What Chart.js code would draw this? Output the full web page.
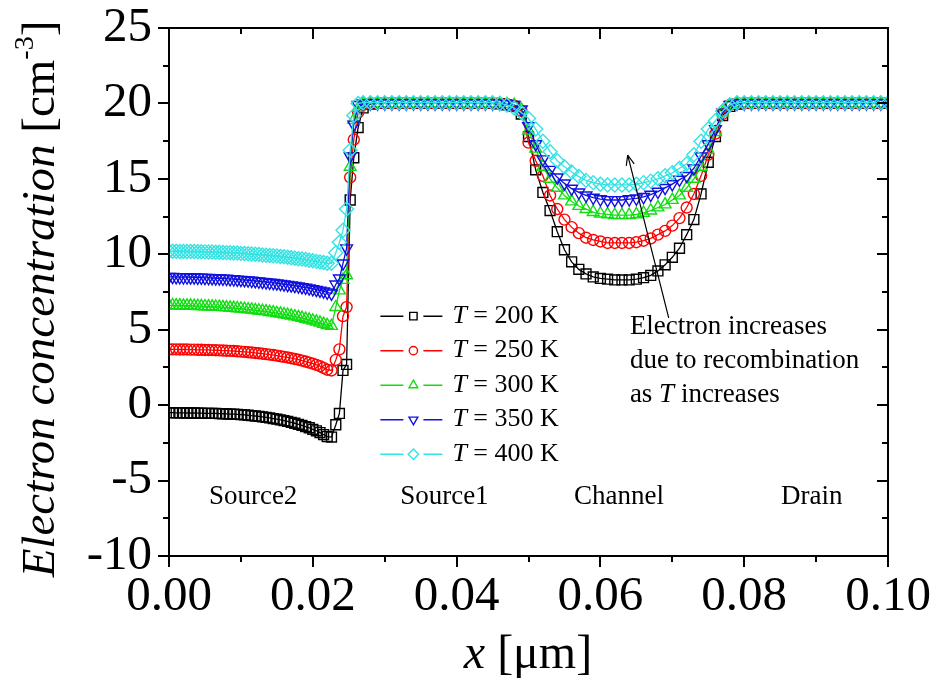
<!DOCTYPE html>
<html><head><meta charset="utf-8">
<script src="https://cdn.jsdelivr.net/npm/chart.js@4.4.0/dist/chart.umd.min.js"></script>
<style>html,body{margin:0;padding:0;background:#fff;}canvas{display:block;}</style>
</head><body>
<canvas id="c" width="930" height="682"></canvas>
<script>
// ---- data ----
const xs = [
  0,0.0005,0.001,0.0015,0.002,0.0025,0.003,0.0035,0.004,0.0045,0.005,0.0055,0.006,0.0065,0.007,0.0075,0.008,0.0085,0.009,0.0095,
  0.01,0.0105,0.011,0.0115,0.012,0.0125,0.013,0.0135,0.014,0.0145,0.015,0.0155,0.016,0.0165,0.017,0.0175,0.018,0.0185,0.019,0.0195,
  0.02,0.0205,0.021,0.0215,0.022,
  0.0226,0.0232,0.0237,0.0242,0.0247,0.0252,0.0257,0.0263,0.027,
  0.028,0.029,0.03,0.031,0.032,0.033,0.034,0.035,0.036,0.037,0.038,0.039,0.04,0.041,0.042,0.043,0.044,0.045,0.046,0.047,0.048,
  0.049,0.05,0.051,0.052,0.053,0.054,0.055,0.056,0.057,0.058,0.059,0.06,0.061,0.062,0.063,0.064,0.065,0.066,0.067,0.068,0.069,0.07,0.071,0.072,0.073,0.074,0.075,0.076,0.077,
  0.078,0.079,0.08,0.081,0.082,0.083,0.084,0.085,0.086,0.087,0.088,0.089,0.09,0.091,0.092,0.093,0.094,0.095,0.096,0.097,0.098,0.099,0.1
];
const t200 = [
  -0.50,-0.50,-0.51,-0.51,-0.51,-0.52,-0.52,-0.52,-0.53,-0.53,-0.54,-0.54,-0.55,-0.55,-0.56,-0.57,-0.58,-0.59,-0.60,-0.61,
  -0.63,-0.65,-0.67,-0.70,-0.72,-0.75,-0.78,-0.81,-0.85,-0.89,-0.93,-0.98,-1.03,-1.08,-1.14,-1.20,-1.27,-1.34,-1.42,-1.50,
  -1.60,-1.70,-1.82,-1.95,-2.08,
  -2.12,-1.30,-0.55,2.30,2.70,13.60,16.40,18.40,19.70,
  19.95,20.00,20.00,20.00,20.00,20.00,20.00,20.00,20.00,20.00,20.00,20.00,20.00,20.00,20.00,20.00,20.00,20.00,19.98,19.90,19.80,
  19.30,17.80,15.60,14.10,12.90,11.50,10.30,9.50,9.00,8.70,8.50,8.40,8.35,8.30,8.30,8.30,8.35,8.45,8.60,8.90,9.30,9.80,10.40,11.30,12.30,14.00,16.10,17.80,19.20,
  19.80,19.95,20.00,20.00,20.00,20.00,20.00,20.00,20.00,20.00,20.00,20.00,20.00,20.00,20.00,20.00,20.00,20.00,20.00,20.00,20.00,20.00,20.00
];
const t250 = [
  3.70,3.70,3.70,3.69,3.69,3.69,3.68,3.68,3.67,3.67,3.66,3.66,3.65,3.64,3.63,3.62,3.61,3.60,3.59,3.57,
  3.55,3.53,3.51,3.49,3.46,3.44,3.41,3.38,3.35,3.32,3.28,3.24,3.20,3.16,3.11,3.06,3.01,2.95,2.89,2.82,
  2.75,2.67,2.58,2.47,2.35,
  2.30,3.00,3.70,5.90,6.50,15.10,17.60,19.40,19.90,
  20.00,20.00,20.00,20.00,20.00,20.00,20.00,20.00,20.00,20.00,20.00,20.00,20.00,20.00,20.00,20.00,20.00,20.00,20.00,19.95,19.85,
  19.50,17.40,16.20,15.20,13.90,13.00,12.30,11.80,11.40,11.10,10.95,10.85,10.75,10.75,10.75,10.75,10.80,10.90,11.05,11.30,11.55,11.90,12.40,13.10,14.00,15.20,16.60,18.00,19.30,
  19.90,20.00,20.00,20.00,20.00,20.00,20.00,20.00,20.00,20.00,20.00,20.00,20.00,20.00,20.00,20.00,20.00,20.00,20.00,20.00,20.00,20.00,20.00
];
const t300 = [
  6.62,6.62,6.61,6.61,6.60,6.60,6.59,6.58,6.57,6.56,6.55,6.54,6.53,6.52,6.51,6.49,6.48,6.46,6.44,6.42,
  6.40,6.38,6.35,6.33,6.30,6.27,6.24,6.21,6.17,6.14,6.10,6.06,6.02,5.98,5.93,5.88,5.83,5.78,5.72,5.66,
  5.60,5.53,5.46,5.38,5.30,
  5.25,6.50,7.60,8.30,8.60,15.80,18.90,19.70,20.00,
  20.00,20.00,20.00,20.00,20.00,20.00,20.00,20.00,20.00,20.00,20.00,20.00,20.00,20.00,20.00,20.00,20.00,20.00,20.00,19.95,19.90,
  19.60,18.20,17.00,15.80,15.00,14.40,13.90,13.50,13.20,13.00,12.80,12.70,12.65,12.60,12.60,12.60,12.65,12.75,12.90,13.10,13.30,13.60,13.90,14.40,15.00,15.80,16.90,18.10,19.40,
  19.90,20.00,20.00,20.00,20.00,20.00,20.00,20.00,20.00,20.00,20.00,20.00,20.00,20.00,20.00,20.00,20.00,20.00,20.00,20.00,20.00,20.00,20.00
];
const t350 = [
  8.50,8.50,8.49,8.49,8.48,8.48,8.47,8.47,8.46,8.45,8.44,8.43,8.42,8.41,8.40,8.39,8.38,8.36,8.35,8.33,
  8.31,8.29,8.27,8.25,8.23,8.20,8.18,8.15,8.12,8.10,8.07,8.04,8.01,7.98,7.94,7.91,7.87,7.83,7.79,7.75,
  7.70,7.65,7.60,7.54,7.47,
  7.40,8.00,8.40,9.40,10.40,16.50,18.60,19.90,20.00,
  20.00,20.00,20.00,20.00,20.00,20.00,20.00,20.00,20.00,20.00,20.00,20.00,20.00,20.00,20.00,20.00,20.00,20.00,20.00,19.95,19.90,
  19.60,18.50,17.30,16.30,15.60,15.10,14.70,14.35,14.10,13.90,13.75,13.65,13.60,13.60,13.60,13.65,13.70,13.80,13.95,14.15,14.40,14.65,14.95,15.20,15.70,16.50,17.30,18.30,19.40,
  19.90,20.00,20.00,20.00,20.00,20.00,20.00,20.00,20.00,20.00,20.00,20.00,20.00,20.00,20.00,20.00,20.00,20.00,20.00,20.00,20.00,20.00,20.00
];
const t400 = [
  10.20,10.20,10.20,10.19,10.19,10.19,10.18,10.18,10.17,10.17,10.16,10.15,10.15,10.14,10.13,10.12,10.11,10.10,10.09,10.08,
  10.06,10.05,10.03,10.02,10.00,9.98,9.96,9.94,9.92,9.90,9.88,9.85,9.83,9.80,9.77,9.74,9.71,9.68,9.65,9.61,
  9.57,9.53,9.49,9.45,9.40,
  9.40,10.10,10.80,11.60,13.00,16.90,19.20,20.00,20.05,
  20.05,20.05,20.05,20.05,20.05,20.05,20.05,20.05,20.05,20.05,20.05,20.05,20.05,20.05,20.05,20.05,20.05,20.05,20.00,19.90,19.70,
  19.40,19.00,18.30,17.50,16.80,16.20,15.80,15.45,15.15,14.90,14.75,14.65,14.60,14.60,14.60,14.60,14.65,14.75,14.85,15.00,15.20,15.40,15.70,16.00,16.60,17.50,18.30,18.85,19.50,
  19.90,20.05,20.05,20.05,20.05,20.05,20.05,20.05,20.05,20.05,20.05,20.05,20.05,20.05,20.05,20.05,20.05,20.05,20.05,20.05,20.05,20.05,20.05
];
const seriesNames = ['200 K','250 K','300 K','350 K','400 K'];
const seriesValues = [t200, t250, t300, t350, t400];
const xTickValues = [0, 0.02, 0.04, 0.06, 0.08, 0.10];
const yTickValues = [-10, -5, 0, 5, 10, 15, 20, 25];
const regionLabels = ['Source2', 'Source1', 'Channel', 'Drain'];
const noteLines = ['Electron increases', 'due to recombination', 'as T increases'];

// ---- styles ----
const SERIF = '"Liberation Serif","Times New Roman",serif';
const styles = [
  {color:'#000000', pointStyle:'rect', rotation:0, radius:7},
  {color:'#ff0000', pointStyle:'circle', rotation:0, radius:5.5},
  {color:'#11dd11', pointStyle:'triangle', rotation:0, radius:6.8},
  {color:'#1010e0', pointStyle:'triangle', rotation:180, radius:6.8},
  {color:'#33e3e3', pointStyle:'rectRot', rotation:0, radius:7}
];
const regionPos = [0.0117, 0.0383, 0.0626, 0.0894];
const regionY = -6.1;

const datasets = seriesValues.map((vals, i) => ({
  label: 'T = ' + seriesNames[i],
  data: xs.map((x, j) => ({x: x, y: vals[j]})),
  showLine: true,
  borderColor: styles[i].color,
  borderWidth: 1.3,
  backgroundColor: 'rgba(0,0,0,0)',
  pointBackgroundColor: 'rgba(0,0,0,0)',
  pointBorderColor: styles[i].color,
  pointBorderWidth: 1.4,
  pointStyle: styles[i].pointStyle,
  pointRotation: styles[i].rotation,
  pointRadius: styles[i].radius,
  tension: 0,
  order: 4 - i
}));

const decor = {
  id: 'decor',
  afterDraw(chart) {
    const ctx = chart.ctx;
    const xS = chart.scales.x, yS = chart.scales.y;
    const {left, right, top, bottom} = chart.chartArea;
    ctx.save();
    ctx.strokeStyle = '#000';
    ctx.lineWidth = 2;
    ctx.strokeRect(left, top, right - left, bottom - top);
    // ticks
    ctx.lineWidth = 2;
    ctx.beginPath();
    for (let k = 0; k <= 10; k++) {
      const v = k * 0.01;
      const px = Math.round(xS.getPixelForValue(v));
      const len = (k % 2 === 0) ? 11 : 6;
      ctx.moveTo(px, bottom); ctx.lineTo(px, bottom + len);
      ctx.moveTo(px, top); ctx.lineTo(px, top + len);
    }
    for (let k = 0; k <= 14; k++) {
      const v = -10 + k * 2.5;
      const py = Math.round(yS.getPixelForValue(v));
      const len = (k % 2 === 0) ? 11 : 6;
      ctx.moveTo(left, py); ctx.lineTo(left - len, py);
      ctx.moveTo(right, py); ctx.lineTo(right - len, py);
    }
    ctx.stroke();

    ctx.fillStyle = '#000';
    // region labels
    ctx.font = '27px ' + SERIF;
    ctx.textAlign = 'center';
    ctx.textBaseline = 'middle';
    regionLabels.forEach((t, i) => {
      ctx.fillText(t, xS.getPixelForValue(regionPos[i]), yS.getPixelForValue(regionY));
    });

    // note text
    ctx.textAlign = 'left';
    ctx.textBaseline = 'alphabetic';
    const nx = xS.getPixelForValue(0.0641);
    const nyBase = yS.getPixelForValue(5.31) + 9;
    const lineGap = 34;
    ctx.font = '27px ' + SERIF;
    ctx.fillText(noteLines[0], nx, nyBase);
    ctx.fillText(noteLines[1], nx, nyBase + lineGap);
    const parts = noteLines[2].split('T');
    let cx = nx;
    ctx.font = '27px ' + SERIF;
    ctx.fillText(parts[0], cx, nyBase + 2 * lineGap); cx += ctx.measureText(parts[0]).width;
    ctx.font = 'italic 27px ' + SERIF;
    ctx.fillText('T', cx, nyBase + 2 * lineGap); cx += ctx.measureText('T').width;
    ctx.font = '27px ' + SERIF;
    ctx.fillText(parts[1], cx, nyBase + 2 * lineGap);

    // arrow
    const ax0 = xS.getPixelForValue(0.0695), ay0 = yS.getPixelForValue(5.78);
    const ax1 = xS.getPixelForValue(0.0638), ay1 = yS.getPixelForValue(16.58);
    ctx.lineWidth = 1.2;
    ctx.beginPath();
    ctx.moveTo(ax0, ay0); ctx.lineTo(ax1, ay1);
    const ang = Math.atan2(ay1 - ay0, ax1 - ax0);
    const hl = 11, ha = 0.38;
    ctx.moveTo(ax1, ay1); ctx.lineTo(ax1 - hl * Math.cos(ang - ha), ay1 - hl * Math.sin(ang - ha));
    ctx.moveTo(ax1, ay1); ctx.lineTo(ax1 - hl * Math.cos(ang + ha), ay1 - hl * Math.sin(ang + ha));
    ctx.stroke();

    // legend
    const lx = xS.getPixelForValue(0.0294);
    const ly0 = yS.getPixelForValue(5.9);
    const rowGap = 34.5;
    seriesNames.forEach((name, i) => {
      const y = ly0 + i * rowGap;
      const st = styles[i];
      ctx.strokeStyle = st.color;
      ctx.lineWidth = 1.5;
      ctx.beginPath();
      ctx.moveTo(lx, y); ctx.lineTo(lx + 23, y);
      ctx.moveTo(lx + 43, y); ctx.lineTo(lx + 62, y);
      ctx.stroke();
      ctx.lineWidth = 1.4;
      ctx.fillStyle = 'rgba(0,0,0,0)';
      Chart.helpers.drawPoint(ctx, {pointStyle: st.pointStyle, rotation: st.rotation, radius: st.radius * 0.75, borderWidth: 1.4}, lx + 33, y);
      ctx.fillStyle = '#000';
      ctx.textBaseline = 'middle';
      ctx.textAlign = 'left';
      let tx = lx + 72;
      ctx.font = 'italic 26px ' + SERIF;
      ctx.fillText('T', tx, y); tx += ctx.measureText('T').width;
      ctx.font = '26px ' + SERIF;
      ctx.fillText(' = ' + name, tx, y);
    });

    // y title
    ctx.fillStyle = '#000';
    ctx.save();
    ctx.translate(54, 299);
    ctx.rotate(-Math.PI / 2);
    ctx.textBaseline = 'alphabetic';
    ctx.textAlign = 'left';
    const fI = 'italic 47px ' + SERIF, fN = '47px ' + SERIF, fS = '28px ' + SERIF;
    ctx.font = fI; const w1 = ctx.measureText('Electron concentration').width;
    ctx.font = fN; const w2 = ctx.measureText(' [cm').width; const w4 = ctx.measureText(']').width;
    ctx.font = fS; const w3 = ctx.measureText('-3').width;
    let px = -(w1 + w2 + w3 + w4) / 2;
    ctx.font = fI; ctx.fillText('Electron concentration', px, 0); px += w1;
    ctx.font = fN; ctx.fillText(' [cm', px, 0); px += w2;
    ctx.font = fS; ctx.fillText('-3', px, -21); px += w3;
    ctx.font = fN; ctx.fillText(']', px, 0);
    ctx.restore();

    // x title
    ctx.textBaseline = 'alphabetic';
    ctx.textAlign = 'left';
    ctx.font = 'italic 48px ' + SERIF; const wx = ctx.measureText('x').width;
    ctx.font = '48px ' + SERIF; const wr = ctx.measureText(' [\u03bcm]').width;
    let sx = 528 - (wx + wr) / 2;
    ctx.font = 'italic 48px ' + SERIF; ctx.fillText('x', sx, 668); sx += wx;
    ctx.font = '48px ' + SERIF; ctx.fillText(' [\u03bcm]', sx, 668);
    ctx.restore();
  }
};

new Chart(document.getElementById('c'), {
  type: 'scatter',
  data: {datasets: datasets},
  options: {
    responsive: false,
    animation: false,
    layout: {padding: {left: 0, top: 28, right: 42, bottom: 0}},
    plugins: {legend: {display: false}, tooltip: {enabled: false}},
    scales: {
      x: {
        type: 'linear', min: 0, max: 0.1,
        afterBuildTicks: (s) => { s.ticks = xTickValues.map(v => ({value: v})); },
        afterFit: (s) => { s.height = 126; s.paddingLeft = 0; s.paddingRight = 0; },
        grid: {display: false, drawTicks: false},
        border: {display: false},
        ticks: {color: '#000', font: {family: SERIF, size: 49}, padding: 12, maxRotation: 0, autoSkip: false,
                callback: (v) => Number(v).toFixed(2)}
      },
      y: {
        type: 'linear', min: -10, max: 25,
        afterBuildTicks: (s) => { s.ticks = yTickValues.map(v => ({value: v})); },
        afterFit: (s) => { s.width = 169; s.paddingTop = 0; s.paddingBottom = 0; },
        grid: {display: false, drawTicks: false},
        border: {display: false},
        ticks: {color: '#000', font: {family: SERIF, size: 49}, padding: 17, autoSkip: false,
                callback: (v) => String(v)}
      }
    }
  },
  plugins: [decor]
});
</script>
</body></html>
